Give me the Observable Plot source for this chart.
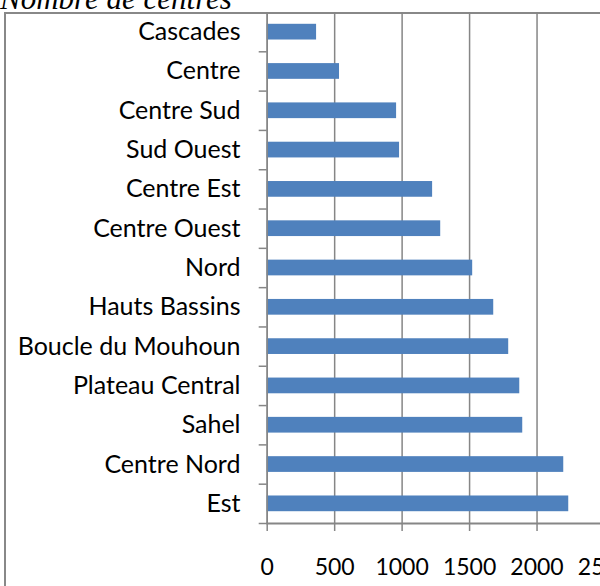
<!DOCTYPE html>
<html><head><meta charset="utf-8">
<script src="https://cdn.jsdelivr.net/npm/d3@7"></script>
<script src="https://cdn.jsdelivr.net/npm/@observablehq/plot@0.6"></script>
<style>
html,body{margin:0;padding:0;width:600px;height:586px;overflow:hidden;background:#fff;}
#wrap{position:relative;width:600px;height:586px;overflow:hidden;}
#frame{position:absolute;left:4px;top:12px;width:700px;height:700px;border:2px solid #888;box-sizing:border-box;}
#title{position:absolute;left:0;top:-17px;font-family:"Liberation Serif",serif;font-style:italic;font-size:31px;line-height:31px;white-space:nowrap;color:#000;}
#chart{position:absolute;left:0;top:0;width:604px;}
#chart svg{overflow:visible;max-width:none !important;width:604px;height:586px !important;}
</style>
</head><body>
<div id="wrap"><div id="title">Nombre de centres</div><div id="frame"></div><div id="chart"></div></div>
<script>
const regions = ["Cascades","Centre","Centre Sud","Sud Ouest","Centre Est","Centre Ouest","Nord","Hauts Bassins","Boucle du Mouhoun","Plateau Central","Sahel","Centre Nord","Est"];
const counts = [366, 536, 959, 981, 1226, 1286, 1523, 1679, 1790, 1872, 1894, 2198, 2235];
const xTicks = [0, 500, 1000, 1500, 2000, 2500];
const data = regions.map((r, i) => ({region: r, count: counts[i]}));
const gray = "#868686";
const chart = Plot.plot({
  width: 604, height: 586,
  marginLeft: 266.7, marginRight: 0, marginTop: 12, marginBottom: 63,
  style: {fontFamily: "Lato", fontSize: "25px", color: "#000", background: "transparent"},
  x: {domain: [0, 2500], ticks: xTicks},
  y: {domain: regions, paddingInner: 0.6, paddingOuter: 0.3, round: false},
  marks: [
    Plot.gridX(xTicks, {stroke: gray, strokeOpacity: 1, strokeWidth: 1.5}),
    Plot.barX(data, {x: "count", y: "region", fill: "#4F81BD"}),
    Plot.ruleX([0], {stroke: gray, strokeWidth: 1.5}),
    Plot.frame({anchor: "bottom", stroke: gray, strokeWidth: 2}),
    Plot.axisX({ticks: xTicks, tickSize: 8, tickPadding: 27, tickFormat: d => String(d), stroke: gray, strokeWidth: 1.5, label: null, fill: "#000", fontSize: 23}),
    Plot.axisY({tickSize: 0, tickPadding: 26.7, label: null, fill: "#000"}),
    Plot.axisY({text: null, tickSize: 8, dy: 19.65, stroke: gray, strokeWidth: 1.5, label: null})
  ]
});
document.getElementById("chart").appendChild(chart);
</script>
</body></html>
